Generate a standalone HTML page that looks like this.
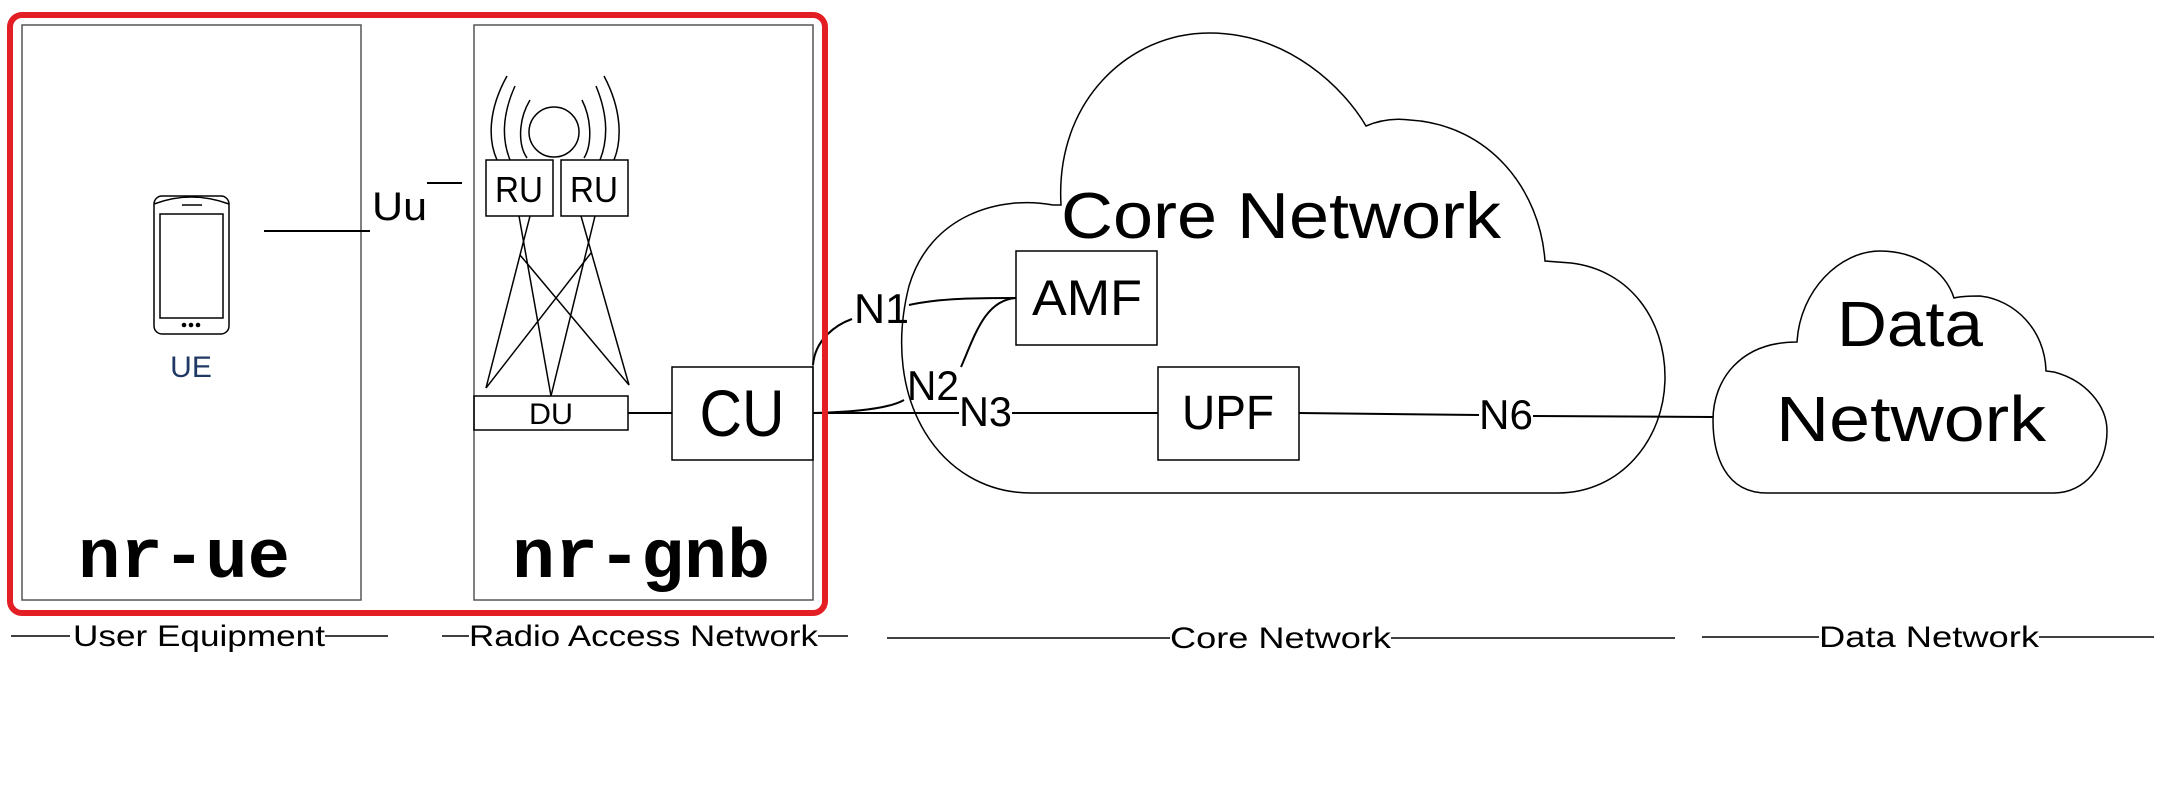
<!DOCTYPE html>
<html><head><meta charset="utf-8"><style>
html,body{margin:0;padding:0;background:#fff;}
svg{display:block;}
text{font-family:"Liberation Sans",sans-serif;fill:#000;}
.m{font-family:"Liberation Mono",monospace;font-weight:bold;}
</style></head><body>
<svg width="2166" height="788" viewBox="0 0 2166 788" xmlns="http://www.w3.org/2000/svg">
<g fill="none" stroke="#000" stroke-width="1.5">
<!-- boxes -->
<rect x="22" y="25" width="339" height="575" stroke="#555"/>
<rect x="474" y="25" width="339" height="575" stroke="#555"/>
<!-- phone -->
<rect x="154" y="196" width="75" height="138" rx="8"/>
<path d="M154,204 Q191,190 229,204" />
<rect x="160" y="214" width="63" height="104"/>
<line x1="182" y1="205" x2="202" y2="205"/>
<line x1="264" y1="231" x2="370" y2="231" stroke-width="2"/>
<line x1="427" y1="183" x2="462" y2="183" stroke-width="2"/>
<!-- antenna -->
<circle cx="554" cy="132" r="25"/>
<path d="M507,76 C488,110 488,140 497,160"/>
<path d="M515,86 C502,115 502,140 510,160"/>
<path d="M530,100 C518,120 518,145 527,158"/>
<path d="M604,76 C622,110 622,140 614,160"/>
<path d="M596,86 C608,115 608,140 600,160"/>
<path d="M582,100 C592,120 592,145 584,158"/>
<rect x="486" y="160" width="67" height="56"/>
<rect x="561" y="160" width="67" height="56"/>
<line x1="530" y1="216" x2="486" y2="388"/>
<line x1="519" y1="216" x2="551" y2="396"/>
<line x1="595" y1="216" x2="551" y2="396"/>
<line x1="581" y1="216" x2="629" y2="385"/>
<line x1="520" y1="255" x2="629" y2="385"/>
<line x1="591" y1="253" x2="486" y2="388"/>
<rect x="474" y="396" width="154" height="34"/>
<line x1="628" y1="413" x2="672" y2="413" stroke-width="2"/>
<rect x="672" y="367" width="141" height="93"/>
<!-- clouds -->
<path d="M1031,493 C940,493 880,400 909,286 C930,215 1000,195 1053,205 L1061,205 C1055,100 1130,33 1209,33 C1290,33 1345,90 1366,126 C1380,120 1395,118 1410,120 C1490,125 1540,190 1545,261 L1571,263 C1630,270 1665,320 1665,377 C1665,440 1620,493 1558,493 Z"/>
<path d="M1767,493 C1725,493 1713,455 1713,420 C1713,380 1740,342 1797,342 C1800,290 1840,251 1880,251 C1915,251 1945,270 1954,298 C1962,296 1972,296 1980,296 C2015,300 2045,330 2046,371 L2054,372 C2085,380 2107,405 2107,431 C2107,465 2085,493 2054,493 Z"/>
<rect x="1016" y="251" width="141" height="94" fill="#fff"/>
<rect x="1158" y="367" width="141" height="93" fill="#fff"/>
<!-- connectors -->
<line x1="813" y1="413" x2="959" y2="413" stroke-width="2"/>
<line x1="1012" y1="413" x2="1158" y2="413" stroke-width="2"/>
<line x1="1299" y1="413" x2="1479" y2="415" stroke-width="2"/>
<line x1="1533" y1="416" x2="1713" y2="417" stroke-width="2"/>
<path d="M813,413 C860,412 890,408 904,400" stroke-width="2"/>
<path d="M961,367 C975,335 985,300 1016,298" stroke-width="2"/>
<path d="M813,365 C815,340 835,325 852,319" stroke-width="2"/>
<path d="M909,305 C940,298 980,298 1016,298" stroke-width="2"/>
<!-- bottom label lines -->
<line x1="11" y1="636" x2="70" y2="636"/>
<line x1="325" y1="636" x2="388" y2="636"/>
<line x1="442" y1="636" x2="469" y2="636"/>
<line x1="818" y1="636" x2="848" y2="636"/>
<line x1="887" y1="638" x2="1170" y2="638"/>
<line x1="1391" y1="638" x2="1675" y2="638"/>
<line x1="1702" y1="637" x2="1819" y2="637"/>
<line x1="2039" y1="637" x2="2154" y2="637"/>
</g>
<rect x="10" y="15" width="815" height="598" rx="12" fill="none" stroke="#e31e24" stroke-width="6"/>
<circle cx="184" cy="325" r="2.3"/><circle cx="191" cy="325" r="2.3"/><circle cx="198" cy="325" r="2.3"/>
<text x="191" y="377" font-size="30" text-anchor="middle" style="fill:#1f3864">UE</text>
<text x="372" y="220" font-size="40" textLength="55" lengthAdjust="spacingAndGlyphs">Uu</text>
<text x="519" y="202" font-size="36" text-anchor="middle" textLength="48" lengthAdjust="spacingAndGlyphs">RU</text>
<text x="594" y="202" font-size="36" text-anchor="middle" textLength="48" lengthAdjust="spacingAndGlyphs">RU</text>
<text x="551" y="424" font-size="30" text-anchor="middle" textLength="44" lengthAdjust="spacingAndGlyphs">DU</text>
<text x="742" y="436" font-size="66" text-anchor="middle" textLength="85" lengthAdjust="spacingAndGlyphs">CU</text>
<text x="78" y="577" font-size="70" class="m" textLength="212" lengthAdjust="spacingAndGlyphs">nr-ue</text>
<text x="512" y="577" font-size="70" class="m" textLength="258" lengthAdjust="spacingAndGlyphs">nr-gnb</text>
<text x="1061" y="238" font-size="65" textLength="440" lengthAdjust="spacingAndGlyphs">Core Network</text>
<text x="1087" y="315" font-size="50" text-anchor="middle" textLength="110" lengthAdjust="spacingAndGlyphs">AMF</text>
<text x="1228" y="429" font-size="48" text-anchor="middle" textLength="92" lengthAdjust="spacingAndGlyphs">UPF</text>
<text x="854" y="323" font-size="42" textLength="55" lengthAdjust="spacingAndGlyphs">N1</text>
<text x="907" y="400" font-size="42" textLength="52" lengthAdjust="spacingAndGlyphs">N2</text>
<text x="959" y="426" font-size="42" textLength="53" lengthAdjust="spacingAndGlyphs">N3</text>
<text x="1479" y="429" font-size="42" textLength="54" lengthAdjust="spacingAndGlyphs">N6</text>
<text x="1837" y="346" font-size="64" textLength="146" lengthAdjust="spacingAndGlyphs">Data</text>
<text x="1776" y="441" font-size="64" textLength="270" lengthAdjust="spacingAndGlyphs">Network</text>
<text x="73" y="646" font-size="30" textLength="252" lengthAdjust="spacingAndGlyphs">User Equipment</text>
<text x="469" y="646" font-size="30" textLength="349" lengthAdjust="spacingAndGlyphs">Radio Access Network</text>
<text x="1170" y="648" font-size="30" textLength="221" lengthAdjust="spacingAndGlyphs">Core Network</text>
<text x="1819" y="647" font-size="30" textLength="220" lengthAdjust="spacingAndGlyphs">Data Network</text>
</svg>
</body></html>
